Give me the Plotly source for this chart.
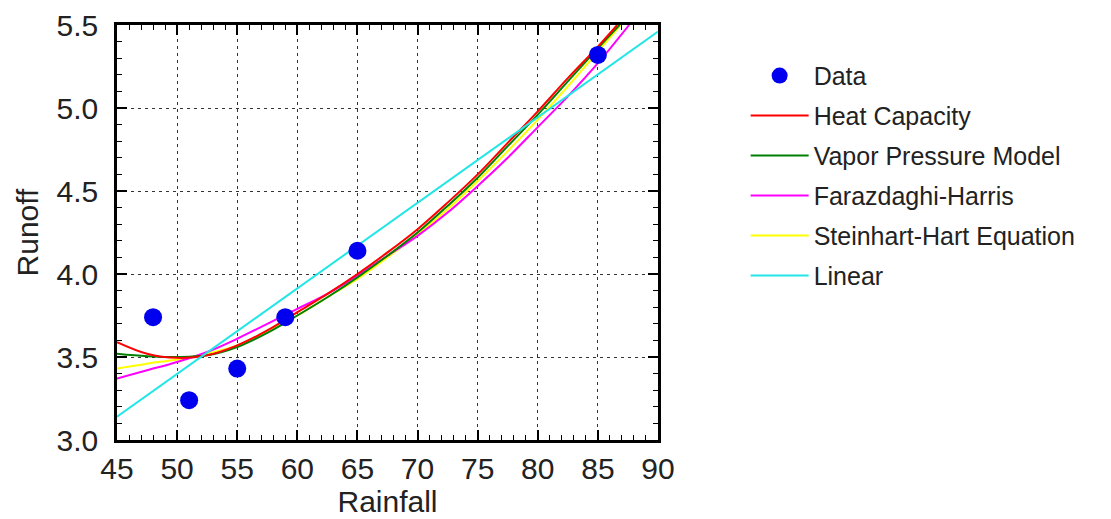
import plotly.graph_objects as go

# Observed data
rain = [48, 51, 55, 59, 65, 85]
runoff = [3.74, 3.24, 3.43, 3.74, 4.14, 5.32]

# Fitted curves
fit_x = [45, 47.5, 50, 52.5, 55, 57.5, 60, 62.5, 65, 67.5, 70, 72.5, 75, 77.5, 80, 82.5, 85]
heat_y = [3.59, 3.52, 3.495, 3.51, 3.57, 3.66, 3.77, 3.88, 4.00, 4.13, 4.27, 4.43, 4.60, 4.79, 4.98, 5.18, 5.37]
heat_end = (86.6, 5.50)
vapor_y = [3.52, 3.505, 3.50, 3.51, 3.56, 3.645, 3.75, 3.86, 3.98, 4.11, 4.25, 4.41, 4.58, 4.77, 4.96, 5.16, 5.36]
vapor_end = (86.8, 5.50)
faraz_y = [3.37, 3.42, 3.47, 3.53, 3.61, 3.70, 3.79, 3.88, 3.99, 4.11, 4.23, 4.37, 4.53, 4.70, 4.885, 5.07, 5.27]
faraz_end = (87.6, 5.50)
stein_y = [3.43, 3.46, 3.485, 3.52, 3.57, 3.65, 3.75, 3.86, 3.97, 4.10, 4.24, 4.39, 4.56, 4.74, 4.93, 5.13, 5.34]
stein_end = (86.9, 5.50)
lin_x = [45, 90]
lin_y = [3.14, 5.46]

names = ["Data", "Heat Capacity", "Vapor Pressure Model", "Farazdaghi-Harris",
         "Steinhart-Hart Equation", "Linear"]
colors = {"Heat Capacity": "#ff0000", "Vapor Pressure Model": "#008000",
          "Farazdaghi-Harris": "#ff00ff", "Steinhart-Hart Equation": "#ffff00",
          "Linear": "#22e6e6"}

FONT = "Liberation Sans, Arial, sans-serif"
TXT = "#222222"

fig = go.Figure()

def curve(name, xs, ys):
    fig.add_trace(go.Scatter(
        x=xs, y=ys, mode="lines", name=name,
        line=dict(color=colors[name], width=2, shape="spline"),
        legendrank=names.index(name) + 1, legendgroup=name))

curve("Steinhart-Hart Equation", fit_x + [stein_end[0]], stein_y + [stein_end[1]])
curve("Farazdaghi-Harris", fit_x + [faraz_end[0]], faraz_y + [faraz_end[1]])
curve("Vapor Pressure Model", fit_x + [vapor_end[0]], vapor_y + [vapor_end[1]])
curve("Heat Capacity", fit_x + [heat_end[0]], heat_y + [heat_end[1]])
curve("Linear", lin_x, lin_y)

fig.add_trace(go.Scatter(
    x=rain, y=runoff, mode="markers", name="Data",
    marker=dict(color="#0000ee", size=18, line=dict(width=0)),
    legendrank=1, legendgroup="Data"))

tick_common = dict(ticks="inside", ticklen=10, tickwidth=1.6, tickcolor="black")
minor_x = dict(dtick=1, ticks="inside", ticklen=5, tickwidth=1.4,
               tickcolor="black", showgrid=False)
minor_y = dict(dtick=0.1, ticks="inside", ticklen=5, tickwidth=1.4,
               tickcolor="black", showgrid=False)

axis_common = dict(
    showline=True, linecolor="black", linewidth=2.5, mirror=True,
    showgrid=True, gridcolor="#333333", gridwidth=1, griddash="3px,4px",
    zeroline=False, automargin=False,
    tickfont=dict(family=FONT, size=30, color=TXT),
    title_font=dict(family=FONT, size=30, color=TXT),
    **tick_common,
)

fig.update_xaxes(range=[45, 90], dtick=5, tick0=45, minor=minor_x,
                 ticklabelstandoff=0,
                 title_text="Rainfall", title_standoff=0, **axis_common)
fig.update_yaxes(range=[3.0, 5.5], dtick=0.5, tick0=3.0, tickformat=".1f",
                 minor=minor_y, ticklabelstandoff=10,
                 title_text="Runoff", title_standoff=10, **axis_common)

# mirrored ticks (top and right)
fig.update_layout(
    xaxis2=dict(overlaying="x", side="top", matches="x", range=[45, 90],
                dtick=5, tick0=45, minor=minor_x, showticklabels=False,
                showgrid=False, zeroline=False, showline=False,
                automargin=False, **tick_common),
    yaxis2=dict(overlaying="y", side="right", matches="y", range=[3.0, 5.5],
                dtick=0.5, tick0=3.0, minor=minor_y, showticklabels=False,
                showgrid=False, zeroline=False, showline=False,
                automargin=False, **tick_common),
)
# invisible anchor trace for the mirrored axes
fig.add_trace(go.Scatter(x=[rain[0]], y=[runoff[0]], xaxis="x2", yaxis="y2",
                         mode="markers", marker=dict(opacity=0),
                         showlegend=False, hoverinfo="skip"))

fig.update_layout(
    width=1111, height=519,
    margin=dict(l=117, r=453, t=25, b=79, autoexpand=False),
    plot_bgcolor="white", paper_bgcolor="white",
    font=dict(family=FONT, color=TXT),
    legend=dict(x=1.162, y=0.933, xanchor="left", yanchor="top",
                font=dict(family=FONT, size=25, color=TXT),
                traceorder="grouped", tracegroupgap=4.5,
                bgcolor="rgba(0,0,0,0)", itemwidth=58),
)

fig.write_html("out.html")
